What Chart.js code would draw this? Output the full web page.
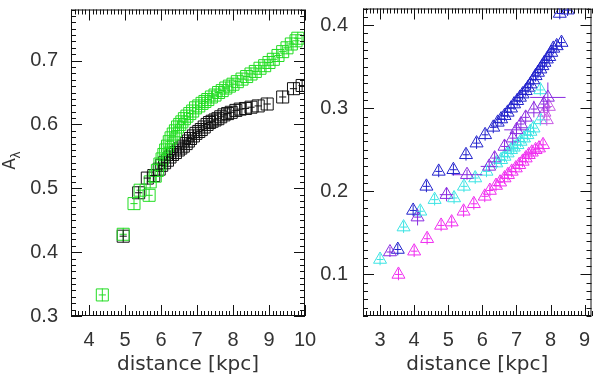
<!DOCTYPE html>
<html>
<head>
<meta charset="utf-8">
<script src="https://cdn.jsdelivr.net/npm/chart.js@4.4.0/dist/chart.umd.min.js"></script>
<style>
  body { margin: 0; background: #fff; }
  #wrap { position: relative; width: 600px; height: 377px; overflow: hidden; }
  canvas { position: absolute; top: 0; }
</style>
</head>
<body>
<div id="wrap">
  <canvas id="leftChart" width="320" height="377" style="left:0"></canvas>
  <canvas id="rightChart" width="300" height="377" style="left:300px"></canvas>
</div>
<script>
// left panel: squares
const greenX = [4.37, 4.95, 5.25, 5.42, 5.67, 5.70, 5.84, 5.90, 5.97, 6.03, 6.08, 6.13, 6.18, 6.23, 6.28, 6.34, 6.40, 6.46, 6.52, 6.58, 6.65, 6.72, 6.80, 6.88, 6.96, 7.05, 7.14, 7.22, 7.30, 7.40, 7.50, 7.60, 7.70, 7.80, 7.90, 8.00, 8.12, 8.25, 8.38, 8.50, 8.62, 8.75, 8.88, 9.00, 9.12, 9.25, 9.38, 9.50, 9.62, 9.75, 9.80];
const greenY = [0.333, 0.428, 0.476, 0.497, 0.489, 0.510, 0.519, 0.528, 0.538, 0.546, 0.553, 0.560, 0.566, 0.573, 0.579, 0.585, 0.590, 0.596, 0.600, 0.604, 0.609, 0.613, 0.617, 0.621, 0.626, 0.629, 0.633, 0.636, 0.639, 0.643, 0.646, 0.650, 0.653, 0.657, 0.660, 0.663, 0.667, 0.671, 0.675, 0.679, 0.683, 0.688, 0.692, 0.697, 0.702, 0.708, 0.714, 0.720, 0.726, 0.731, 0.735];
const blackX = [4.95, 5.38, 5.62, 5.80, 5.95, 6.02, 6.10, 6.18, 6.25, 6.32, 6.40, 6.48, 6.55, 6.62, 6.70, 6.76, 6.82, 6.90, 6.97, 7.05, 7.12, 7.20, 7.28, 7.35, 7.42, 7.50, 7.58, 7.66, 7.75, 7.85, 7.95, 8.08, 8.20, 8.35, 8.50, 8.70, 8.95, 9.38, 9.68, 9.92];
const blackY = [0.425, 0.493, 0.516, 0.520, 0.530, 0.536, 0.540, 0.544, 0.549, 0.553, 0.556, 0.560, 0.563, 0.566, 0.570, 0.574, 0.578, 0.582, 0.586, 0.589, 0.592, 0.596, 0.600, 0.603, 0.605, 0.607, 0.609, 0.612, 0.615, 0.617, 0.619, 0.622, 0.624, 0.625, 0.627, 0.629, 0.632, 0.643, 0.656, 0.661];

// right panel: triangles
const blueX = [3.52, 3.97, 4.36, 4.72, 5.15, 5.52, 5.83, 6.08, 6.32, 6.45, 6.55, 6.65, 6.74, 6.84, 6.93, 7.02, 7.10, 7.18, 7.27, 7.34, 7.41, 7.49, 7.56, 7.63, 7.70, 7.76, 7.82, 7.89, 7.96, 8.02, 8.08, 8.18, 8.32, 8.27, 8.50];
const blueY = [0.130, 0.177, 0.206, 0.224, 0.226, 0.244, 0.258, 0.268, 0.277, 0.283, 0.287, 0.291, 0.295, 0.300, 0.305, 0.309, 0.313, 0.317, 0.321, 0.325, 0.329, 0.334, 0.339, 0.343, 0.347, 0.351, 0.355, 0.359, 0.362, 0.367, 0.372, 0.375, 0.379, 0.414, 0.418];
const violetX = [3.29, 4.10, 4.95, 5.55, 6.20, 6.36, 6.65, 6.89, 7.00, 7.13, 7.27, 7.51, 7.80, 7.92];
const violetY = [0.127, 0.169, 0.196, 0.220, 0.230, 0.240, 0.254, 0.264, 0.274, 0.281, 0.289, 0.299, 0.305, 0.313];
const violetErrX = [0.10, 0.10, 0.20, 0.45, 0.25, 0.10, 0.10, 0.10, 0.36, 0.10, 0.10, 0.10, 0.10, 0.52];
const violetErrY = [0.006, 0.010, 0.008, 0.006, 0.006, 0.008, 0.008, 0.008, 0.008, 0.008, 0.008, 0.010, 0.010, 0.018];
const cyanX = [3.00, 3.69, 4.18, 4.60, 5.17, 5.46, 5.79, 6.12, 6.41, 6.55, 6.65, 6.74, 6.84, 6.92, 7.03, 7.12, 7.22, 7.32, 7.41, 7.50, 7.70, 7.70];
const cyanY = [0.118, 0.157, 0.176, 0.190, 0.192, 0.206, 0.216, 0.224, 0.234, 0.238, 0.242, 0.246, 0.250, 0.253, 0.256, 0.260, 0.264, 0.268, 0.272, 0.276, 0.286, 0.322];
const magentaX = [3.54, 4.00, 4.38, 4.79, 5.10, 5.45, 5.75, 6.07, 6.22, 6.40, 6.52, 6.65, 6.75, 6.86, 6.98, 7.08, 7.18, 7.27, 7.36, 7.45, 7.56, 7.66, 7.78];
const magentaY = [0.100, 0.128, 0.143, 0.159, 0.163, 0.176, 0.185, 0.194, 0.201, 0.207, 0.211, 0.216, 0.220, 0.224, 0.228, 0.232, 0.236, 0.240, 0.244, 0.247, 0.250, 0.252, 0.256];
const lilacX = [7.82, 7.89, 7.95];
const lilacY = [0.295, 0.286, 0.302];

// tick labels
const leftXTicks = [4, 5, 6, 7, 8, 9, 10];
const leftYTicks = [0.3, 0.4, 0.5, 0.6, 0.7];
const rightXTicks = [3, 4, 5, 6, 7, 8, 9];
const rightYTicks = [0.1, 0.2, 0.3, 0.4];

const pts = (xs, ys) => xs.map((x, i) => ({ x: x, y: ys[i] }));

// frame with inward major/minor ticks on all four sides (IDL look)
const frameTicks = {
  id: 'frameTicks',
  afterDatasetsDraw(chart, args, opts) {
    const { ctx, chartArea: a, scales: { x, y } } = chart;
    ctx.save();
    ctx.strokeStyle = '#111';
    ctx.lineWidth = 1;
    ctx.strokeRect(a.left + 0.5, a.top + 0.5, a.right - a.left - 1, a.bottom - a.top - 1);
    ctx.beginPath();
    const axisTicks = (scale, minor, ratio, horiz) => {
      const k0 = Math.ceil(scale.min / minor - 1e-6), k1 = Math.floor(scale.max / minor + 1e-6);
      for (let k = k0; k <= k1; k++) {
        const p = Math.round(scale.getPixelForValue(k * minor)) + 0.5;
        const len = (k % ratio === 0) ? 11 : 5;
        if (horiz) {
          ctx.moveTo(p, a.bottom); ctx.lineTo(p, a.bottom - len);
          ctx.moveTo(p, a.top); ctx.lineTo(p, a.top + len);
        } else {
          ctx.moveTo(a.left, p); ctx.lineTo(a.left + len, p);
          ctx.moveTo(a.right, p); ctx.lineTo(a.right - len, p);
        }
      }
    };
    axisTicks(x, opts.xMinor, opts.xRatio, true);
    axisTicks(y, opts.yMinor, opts.yRatio, false);
    ctx.stroke();
    ctx.restore();
  }
};

// small error-bar crosses inside every symbol
const errCross = {
  id: 'errCross',
  afterDatasetsDraw(chart) {
    const { ctx, chartArea: a, scales: { x, y } } = chart;
    ctx.save();
    ctx.beginPath();
    ctx.rect(a.left, a.top, a.right - a.left, a.bottom - a.top);
    ctx.clip();
    ctx.lineWidth = 1;
    chart.data.datasets.forEach(ds => {
      ctx.strokeStyle = ds.borderColor;
      ctx.beginPath();
      ds.data.forEach((p, j) => {
        const ex = Array.isArray(ds.errX) ? ds.errX[j] : ds.errX;
        const ey = Array.isArray(ds.errY) ? ds.errY[j] : ds.errY;
        const px = x.getPixelForValue(p.x), py = y.getPixelForValue(p.y);
        ctx.moveTo(x.getPixelForValue(p.x - ex), py); ctx.lineTo(x.getPixelForValue(p.x + ex), py);
        ctx.moveTo(px, y.getPixelForValue(p.y - ey)); ctx.lineTo(px, y.getPixelForValue(p.y + ey));
      });
      ctx.stroke();
    });
    ctx.restore();
  }
};

// y title A with subscript lambda
const yTitle = {
  id: 'yTitle',
  afterDraw(chart, args, opts) {
    if (!opts.show) return;
    const ctx = chart.ctx;
    ctx.save();
    ctx.translate(11, 164);
    ctx.rotate(-Math.PI / 2);
    ctx.fillStyle = '#333';
    ctx.textAlign = 'center';
    ctx.textBaseline = 'middle';
    ctx.font = '17px "DejaVu Sans"';
    ctx.fillText('A', 0, 0);
    ctx.font = '12px "DejaVu Sans"';
    ctx.fillText('λ', 9, 5.5);
    ctx.restore();
  }
};

function makeOptions(cfg) {
  return {
    responsive: false,
    animation: false,
    events: [],
    layout: { padding: { top: 5, right: cfg.padRight, bottom: 0, left: 0 } },
    plugins: {
      legend: { display: false },
      tooltip: { enabled: false },
      frameTicks: { xMinor: 0.1, xRatio: 10, yMinor: 0.01, yRatio: 10 },
      yTitle: { show: cfg.yTitle }
    },
    scales: {
      x: {
        type: 'linear',
        min: cfg.xMin, max: cfg.xMax,
        grid: { display: false, drawTicks: false },
        border: { display: false },
        afterBuildTicks: s => { s.ticks = cfg.xTicks.map(v => ({ value: v })); },
        afterFit: s => { s.height = 61; s.paddingLeft = 0; s.paddingRight = 0; },
        ticks: {
          autoSkip: false, maxRotation: 0, padding: 12, color: '#333',
          font: { family: 'Liberation Sans', size: 20 },
          callback: v => String(v)
        },
        title: {
          display: true, text: 'distance [kpc]', color: '#333',
          font: { family: 'DejaVu Sans', size: 20 },
          padding: { top: 0, bottom: 0 }
        }
      },
      y: {
        type: 'linear',
        min: cfg.yMin, max: cfg.yMax,
        grid: { display: false, drawTicks: false },
        border: { display: false },
        afterBuildTicks: s => { s.ticks = cfg.yTicks.map(v => ({ value: v })); },
        afterFit: s => { s.width = cfg.yWidth; s.paddingTop = 0; s.paddingBottom = 0; },
        ticks: {
          autoSkip: false, padding: cfg.yPad, color: '#333',
          font: { family: 'Liberation Sans', size: 20 },
          callback: v => v.toFixed(1)
        }
      }
    }
  };
}

const sq = (data, color) => ({
  data: data, borderColor: color, backgroundColor: 'rgba(0,0,0,0)',
  pointStyle: 'rect', pointRadius: 8.5, borderWidth: 1, errX: 0.1, errY: 0.01
});
const tri = (data, color, ex, ey) => ({
  data: data, borderColor: color, backgroundColor: 'rgba(0,0,0,0)',
  pointStyle: 'triangle', pointRadius: 7.5, borderWidth: 1,
  errX: ex === undefined ? 0.1 : ex, errY: ey === undefined ? 0.007 : ey
});

new Chart(document.getElementById('leftChart'), {
  type: 'scatter',
  data: {
    datasets: [
      sq(pts(greenX, greenY), '#22dd22'),
      sq(pts(blackX, blackY), '#111111')
    ]
  },
  options: makeOptions({
    xMin: 3.5, xMax: 10, yMin: 0.3, yMax: 0.78, padRight: 15, yWidth: 71, yPad: 13,
    xTicks: leftXTicks, yTicks: leftYTicks, yTitle: true
  }),
  plugins: [frameTicks, errCross, yTitle]
});

new Chart(document.getElementById('rightChart'), {
  type: 'scatter',
  data: {
    datasets: [
      tri(pts(violetX, violetY), '#8a2be0', violetErrX, violetErrY),
      tri(pts(lilacX, lilacY), '#c85ae6'),
      tri(pts(blueX, blueY), '#2222cc'),
      tri(pts(cyanX, cyanY), '#3ce4e4'),
      tri(pts(magentaX, magentaY), '#f02cf0')
    ]
  },
  options: makeOptions({
    xMin: 2.5, xMax: 9.2, yMin: 0.05, yMax: 0.42, padRight: 3, yWidth: 63, yPad: 15,
    xTicks: rightXTicks, yTicks: rightYTicks, yTitle: false
  }),
  plugins: [frameTicks, errCross, yTitle]
});
</script>
</body>
</html>
